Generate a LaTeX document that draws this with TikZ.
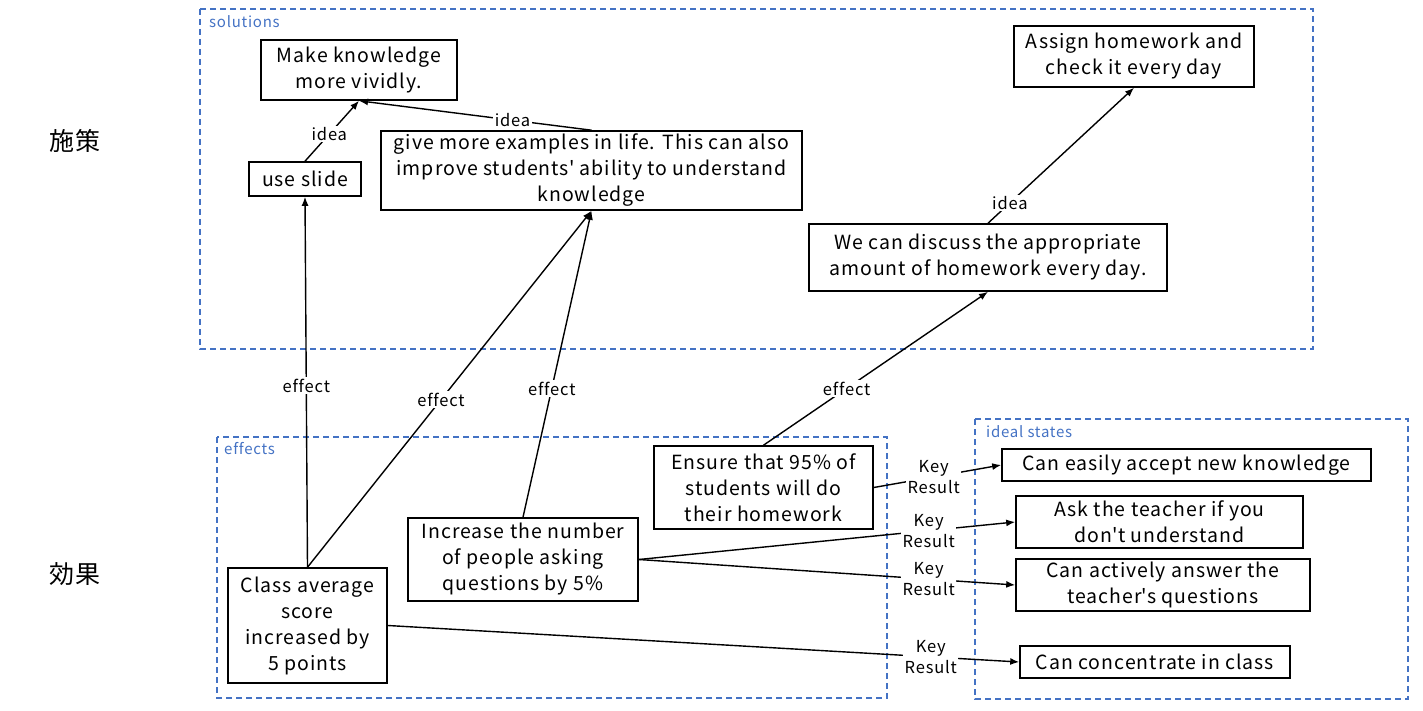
\documentclass[tikz,border=0pt]{standalone}
\usepackage{fontspec}
\setmainfont{Noto Sans CJK JP}[LetterSpace=5,Ligatures={NoCommon}]
\usetikzlibrary{arrows.meta}
\definecolor{frameblue}{HTML}{4472C4}
\newcommand{\apos}{\textquotesingle}
\begin{document}
\begin{tikzpicture}[x=1pt,y=-1pt,
 box/.style={draw, line width=1.6pt, align=center, inner sep=0pt, font=\fontsize{19.5}{26}\selectfont},
 lbl/.style={fill=white, inner sep=1.5pt, align=center, font=\fontsize{16.5}{21}\selectfont},
 con/.style={line width=1.4pt, -{Latex[length=9pt,width=7pt]}},
 frame/.style={draw=frameblue, line width=1.4pt, dash pattern=on 6pt off 4pt},
 ftitle/.style={text=frameblue, anchor=west, font=\fontsize{15}{17}\selectfont, inner sep=0pt},
 side/.style={font=\fontsize{25}{28}\selectfont, inner sep=0pt}]
\useasboundingbox (0,0) rectangle (1423,711);
% frames
\draw[frame] (200,9) rectangle (1313,349);
\draw[frame] (217,437) rectangle (887,698);
\draw[frame] (975,419) rectangle (1408,699);
\node[ftitle] (tsol) at (209,22) {solutions};
\node[ftitle] (teff) at (224,449) {effects};
\node[ftitle] (tideal) at (986,432) {ideal states};
\node[side] (shisaku) at (75,141) {施策};
\node[side] (kouka) at (75,574) {効果};
% nodes
\node[box, minimum width=196pt, minimum height=60pt] (mk) at (359,70) {Make knowledge\\more vividly.};
\node[box, minimum width=112pt, minimum height=34pt] (us) at (305,179) {use slide};
\node[box, minimum width=421pt, minimum height=79pt] (ge) at (591.5,170.5) {give more examples in life. This can also\\improve students\apos{} ability to understand\\knowledge};
\node[box, minimum width=240pt, minimum height=61pt] (ah) at (1134,56.5) {Assign homework and\\check it every day};
\node[box, minimum width=358pt, minimum height=67pt] (wd) at (988,257.5) {We can discuss the appropriate\\amount of homework every day.};
\node[box, minimum width=159pt, minimum height=115pt] (ca) at (307.5,625.5) {Class average\\score\\increased by\\5 points};
\node[box, minimum width=230pt, minimum height=83pt] (inq) at (523,559.5) {Increase the number\\of people asking\\questions by 5\%};
\node[box, minimum width=219pt, minimum height=83pt] (en) at (763.5,487.5) {Ensure that 95\% of\\students will do\\their homework};
\node[box, minimum width=369pt, minimum height=32pt] (i1) at (1186.5,465) {Can easily accept new knowledge};
\node[box, minimum width=287pt, minimum height=52pt] (i2) at (1159.5,522) {Ask the teacher if you\\don\apos{}t understand};
\node[box, minimum width=294pt, minimum height=52pt] (i3) at (1163,585) {Can actively answer the\\teacher\apos{}s questions};
\node[box, minimum width=270pt, minimum height=32pt] (i4) at (1155,662) {Can concentrate in class};
% connectors
\draw[con] (us.north) -- node[lbl, pos=0.45] {idea} (mk.south);
\draw[con] (ge.north) -- node[lbl, pos=0.34] {idea} (mk.south);
\draw[con] (ca.north) -- node[lbl, pos=0.49] {effect} (us.south);
\draw[con] (ca.north) -- node[lbl, pos=0.47] {effect} (ge.south);
\draw[con] (inq.north) -- node[lbl, pos=0.42] {effect} (ge.south);
\draw[con] (en.north) -- node[lbl, pos=0.37] {effect} (wd.south);
\draw[con] (wd.north) -- node[lbl, pos=0.15] {idea} (ah.south);
\draw[con] (en.east) -- node[lbl, pos=0.47] {Key\\Result} (i1.west);
\draw[con] (inq.east) -- node[lbl, pos=0.77] {Key\\Result} (i2.west);
\draw[con] (inq.east) -- node[lbl, pos=0.77] {Key\\Result} (i3.west);
\draw[con] (ca.east) -- node[lbl, pos=0.86] {Key\\Result} (i4.west);
\end{tikzpicture}
\end{document}
